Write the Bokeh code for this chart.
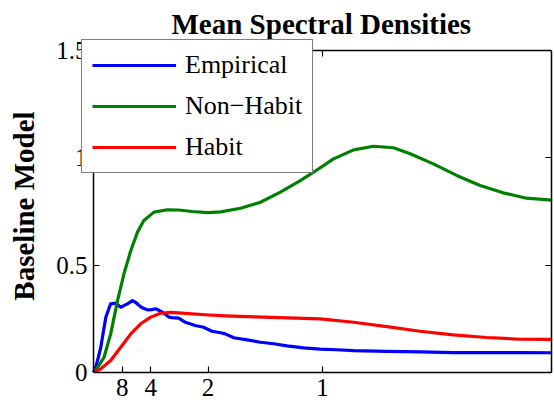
from bokeh.plotting import figure
from bokeh.models import FixedTicker, LinearAxis, Legend, LegendItem, Range1d
from bokeh.embed import file_html
from bokeh.resources import INLINE

# Period labels on the frequency axis (cycles per unit of time = 1/period)
period_labels = ["8", "4", "2", "1"]
y_tick_values = [0, 0.5, 1, 1.5]
y_tick_labels = ["0", "0.5", "1", "1.5"]
x_limits = (0.0, 2.0)
y_limits = (0.0, 1.5)

# Empirical spectral density
freq_emp = [0, 0.010, 0.021, 0.032, 0.043, 0.054, 0.075, 0.097, 0.119, 0.148,
            0.170, 0.185, 0.199, 0.215, 0.235, 0.255, 0.271, 0.285, 0.300, 0.315,
            0.329, 0.343, 0.372, 0.401, 0.444, 0.481, 0.517, 0.555, 0.575,
            0.613, 0.671, 0.729, 0.787, 0.845, 0.918, 0.990, 1.063, 1.136, 1.281,
            1.426, 1.571, 1.717, 1.862, 2.0]
dens_emp = [0, 0.025, 0.07, 0.118, 0.19, 0.258, 0.32, 0.323, 0.304, 0.32,
            0.335, 0.326, 0.312, 0.300, 0.292, 0.293, 0.297, 0.290, 0.281, 0.270,
            0.258, 0.256, 0.253, 0.234, 0.219, 0.211, 0.192, 0.185, 0.18,
            0.162, 0.152, 0.141, 0.134, 0.124, 0.115, 0.109, 0.106, 0.102, 0.098,
            0.096, 0.093, 0.093, 0.093, 0.092]

# Non-habit model spectral density
freq_nonhabit = [0, 0.010, 0.025, 0.046, 0.075, 0.105, 0.133, 0.163, 0.192, 0.220,
                 0.264, 0.322, 0.372, 0.430, 0.500, 0.555, 0.642, 0.729, 0.816, 0.903,
                 0.961, 1.048, 1.136, 1.223, 1.310, 1.383, 1.484, 1.586, 1.688, 1.789,
                 1.891, 2.0]
dens_nonhabit = [0, 0.012, 0.035, 0.071, 0.18, 0.335, 0.46, 0.568, 0.654, 0.708,
                 0.747, 0.758, 0.757, 0.750, 0.745, 0.748, 0.765, 0.793, 0.840, 0.894,
                 0.933, 0.995, 1.037, 1.054, 1.047, 1.019, 0.972, 0.918, 0.871, 0.837,
                 0.812, 0.803]

# Habit model spectral density
freq_habit = [0, 0.032, 0.075, 0.119, 0.163, 0.206, 0.25, 0.293, 0.337, 0.386,
              0.488, 0.575, 0.743, 0.99, 1.136, 1.281, 1.426, 1.571, 1.717, 1.862, 2.0]
dens_habit = [0, 0.017, 0.056, 0.118, 0.18, 0.227, 0.258, 0.276, 0.280, 0.277,
              0.269, 0.264, 0.258, 0.25, 0.234, 0.214, 0.192, 0.175, 0.163, 0.155, 0.154]

SERIF = "Liberation Serif"
x_ticks = [1.0 / float(s) for s in period_labels]
x_overrides = {t: s for t, s in zip(x_ticks, period_labels)}
y_overrides = {t: s for t, s in zip(y_tick_values, y_tick_labels)}

# The frame is widened a little to the left and top so that the legend box can
# hang over the tick labels; the axis lines themselves sit at the data limits.
AX_W, AX_H = 458, 322          # pixel size of the axes box
PAD_L, PAD_T = 12, 11          # extra frame room for the legend overhang
x_span = x_limits[1] - x_limits[0]
y_span = y_limits[1] - y_limits[0]
x_lo = x_limits[0] - PAD_L * x_span / AX_W
y_hi = y_limits[1] + PAD_T * y_span / AX_H

p = figure(width=554, height=406, output_backend="svg", toolbar_location=None,
           x_range=Range1d(x_lo, x_limits[1]), y_range=Range1d(y_limits[0], y_hi),
           min_border_left=81, min_border_right=3, min_border_top=39,
           min_border_bottom=34, title="Mean Spectral Densities")
p.background_fill_color = "white"
p.border_fill_color = "white"
p.outline_line_color = None
p.grid.visible = False

p.title.align = "left"
p.title.offset = 90
p.title.standoff = 0
p.title.text_font = SERIF
p.title.text_font_size = "29px"
p.title.text_font_style = "bold"
p.title.text_color = "black"

def style_axis(ax):
    ax.axis_line_color = "black"
    ax.axis_line_width = 1.5
    ax.major_tick_in = 6
    ax.major_tick_out = 0
    ax.major_tick_line_color = "black"
    ax.major_tick_line_width = 1.2
    ax.minor_tick_line_color = None
    ax.major_label_text_font = SERIF
    ax.major_label_text_color = "black"
    ax.major_label_text_font_size = "25px"

# bottom axis with period labels
style_axis(p.xaxis[0])
p.xaxis.ticker = FixedTicker(ticks=x_ticks)
p.xaxis.major_label_overrides = x_overrides
p.xaxis.major_label_standoff = 6
p.xaxis.bounds = x_limits

# left labels sit in the side panel; the line and ticks are drawn by a pinned axis
style_axis(p.yaxis[0])
p.yaxis.ticker = FixedTicker(ticks=y_tick_values)
p.yaxis.major_label_overrides = y_overrides
p.yaxis.bounds = y_limits
p.yaxis.axis_line_color = None
p.yaxis.major_tick_line_color = None
p.yaxis.major_tick_in = 0
p.yaxis.major_label_standoff = -6
p.yaxis.axis_label = "Baseline Model"
p.yaxis.axis_label_text_font = SERIF
p.yaxis.axis_label_text_font_size = "29px"
p.yaxis.axis_label_text_font_style = "bold"
p.yaxis.axis_label_text_color = "black"
p.yaxis.axis_label_standoff = 13

left_line = LinearAxis(ticker=FixedTicker(ticks=y_tick_values), bounds=y_limits,
                       fixed_location=x_limits[0])
style_axis(left_line)
left_line.major_label_overrides = {t: "" for t in y_tick_values}
left_line.major_label_standoff = 0
p.add_layout(left_line, "left")

top_axis = LinearAxis(ticker=FixedTicker(ticks=x_ticks), bounds=x_limits,
                      fixed_location=y_limits[1])
style_axis(top_axis)
top_axis.major_label_overrides = {t: "" for t in x_ticks}
top_axis.major_label_standoff = 0
p.add_layout(top_axis, "above")

right_axis = LinearAxis(ticker=FixedTicker(ticks=y_tick_values), bounds=y_limits)
style_axis(right_axis)
right_axis.major_label_overrides = {t: "" for t in y_tick_values}
right_axis.major_label_standoff = 0
p.add_layout(right_axis, "right")

r_emp = p.line(freq_emp, dens_emp, line_color="#0000ff", line_width=3.2,
               line_join="round")
r_non = p.line(freq_nonhabit, dens_nonhabit, line_color="#008000", line_width=3.2,
               line_join="round")
r_hab = p.line(freq_habit, dens_habit, line_color="#ff0000", line_width=3.2,
               line_join="round")

legend = Legend(items=[LegendItem(label="Empirical", renderers=[r_emp]),
                       LegendItem(label="Non\u2212Habit", renderers=[r_non]),
                       LegendItem(label="Habit", renderers=[r_hab])],
                location="top_left")
legend.border_line_color = "black"
legend.border_line_width = 1.5
legend.background_fill_color = "white"
legend.background_fill_alpha = 1.0
legend.label_text_font = SERIF
legend.label_text_font_size = "26px"
legend.label_text_color = "black"
legend.glyph_width = 84
legend.glyph_height = 20
legend.label_height = 20
legend.label_standoff = 9
legend.padding = 10
legend.spacing = 11
legend.margin = 0
p.add_layout(legend)

open("out.html", "w").write(file_html(p, INLINE))
